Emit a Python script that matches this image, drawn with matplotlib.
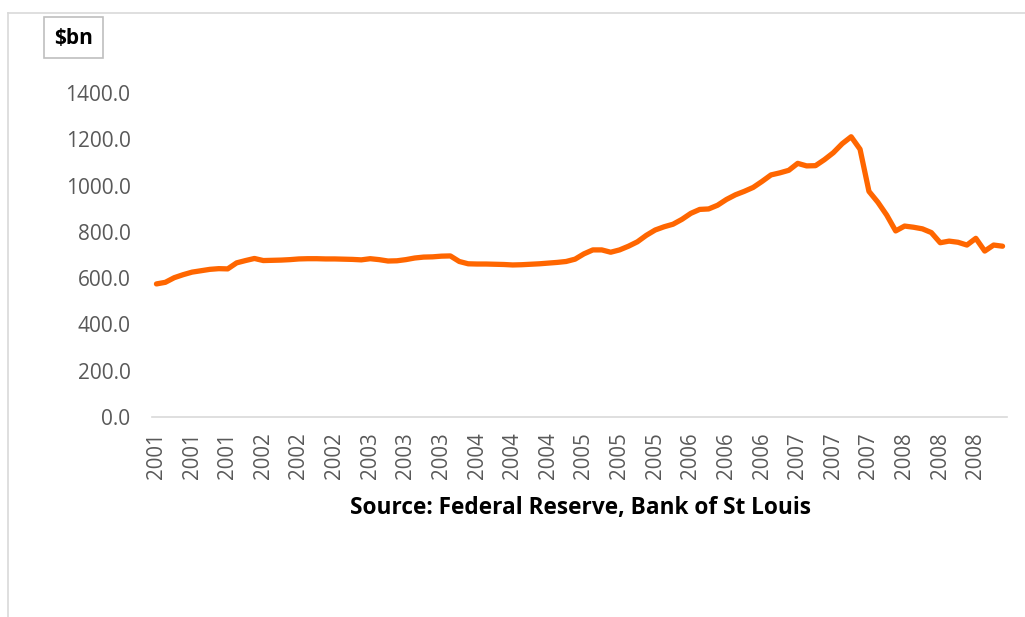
import matplotlib.pyplot as plt
from matplotlib.patches import Rectangle

# monthly values, $bn, Jan 2001 - Dec 2008
values = [575, 582, 602, 615, 626, 632, 638, 641, 640, 666, 676, 685,
          676, 677, 678, 680, 683, 684, 684, 683, 683, 682, 681, 679,
          684, 680, 674, 675, 680, 687, 691, 692, 695, 696, 672, 662,
          661, 661, 660, 659, 657, 658, 660, 662, 665, 668, 672, 682,
          705, 722, 722, 712, 722, 738, 757, 785, 808, 822, 833, 854,
          880, 897, 899, 915, 940, 960, 975, 992, 1018, 1046, 1055, 1066,
          1096, 1085, 1086, 1112, 1142, 1181, 1211, 1157, 975, 928, 872, 804,
          825, 820, 813, 797, 753, 760, 755, 743, 772, 717, 743, 738]

# one label every 4 months
tick_labels = ['2001', '2001', '2001', '2002', '2002', '2002',
               '2003', '2003', '2003', '2004', '2004', '2004',
               '2005', '2005', '2005', '2006', '2006', '2006',
               '2007', '2007', '2007', '2008', '2008', '2008']
y_ticks = [0, 200, 400, 600, 800, 1000, 1200, 1400]

plt.rcParams['font.family'] = ['Open Sans', 'DejaVu Sans']

fig = plt.figure(figsize=(10.25, 6.17), dpi=100)
W, H = 1025, 617
ax = fig.add_axes([152 / W, 200 / H, 855 / W, 324 / H])

x = list(range(len(values)))
ax.plot(x, values, color='#FF6600', linewidth=3.8,
        solid_joinstyle='round', solid_capstyle='round')

ax.set_xlim(-0.5, len(values) - 0.5)
ax.set_ylim(0, 1400)
ax.set_yticks(y_ticks)
ax.set_yticklabels([f'{v:.1f}' for v in y_ticks])
ax.set_xticks(range(0, len(values), 4))
ax.set_xticklabels(tick_labels, rotation=90)

for s in ['top', 'right', 'left']:
    ax.spines[s].set_visible(False)
ax.spines['bottom'].set_color('#d9d9d9')
ax.spines['bottom'].set_linewidth(1.2)
ax.tick_params(axis='both', length=0, colors='#595959')
ax.tick_params(axis='y', pad=15.5, labelsize=15)
ax.tick_params(axis='x', pad=11, labelsize=14.8)

# source line under the axis labels
fig.text(580 / W, 1 - 508 / H, 'Source: Federal Reserve, Bank of St Louis',
         ha='center', va='center', fontsize=16.3, fontweight='bold', color='black')

# unit box top left
fig.patches.append(Rectangle((44 / W, 1 - 58 / H), 59 / W, 41 / H,
                             transform=fig.transFigure, facecolor='white',
                             edgecolor='#bfbfbf', linewidth=1.2))
fig.text(73.5 / W, 1 - 38 / H, '$bn', ha='center', va='center',
         fontsize=15, fontweight='bold', color='black')

# chart area border (top and left edges visible)
fig.add_artist(plt.Line2D([8 / W, 1], [1 - 13 / H, 1 - 13 / H],
                          transform=fig.transFigure, color='#d9d9d9', linewidth=1.2))
fig.add_artist(plt.Line2D([8 / W, 8 / W], [0, 1 - 13 / H],
                          transform=fig.transFigure, color='#d9d9d9', linewidth=1.2))

fig.savefig('out.png', dpi=100)
